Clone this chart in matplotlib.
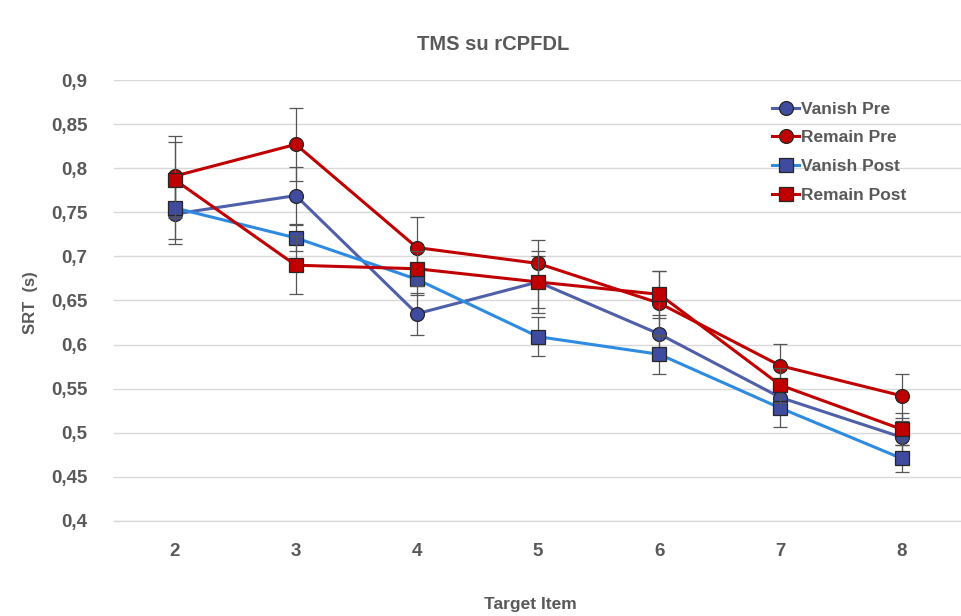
import matplotlib.pyplot as plt

plt.rcParams['font.family'] = ['Liberation Sans', 'DejaVu Sans']

items = [2, 3, 4, 5, 6, 7, 8]

vanish_pre = [0.748, 0.769, 0.635, 0.671, 0.612, 0.540, 0.495]
remain_pre = [0.791, 0.827, 0.710, 0.692, 0.647, 0.576, 0.542]
vanish_post = [0.755, 0.721, 0.674, 0.609, 0.589, 0.528, 0.471]
remain_post = [0.787, 0.690, 0.686, 0.671, 0.657, 0.554, 0.504]

vanish_pre_err = [0.034, 0.032, 0.024, 0.030, 0.022, 0.018, 0.018]
remain_pre_err = [0.045, 0.041, 0.035, 0.027, 0.037, 0.025, 0.025]
vanish_post_err = [0.035, 0.015, 0.018, 0.022, 0.022, 0.021, 0.015]
remain_post_err = [0.043, 0.033, 0.020, 0.035, 0.027, 0.020, 0.018]

yticks = [0.4, 0.45, 0.5, 0.55, 0.6, 0.65, 0.7, 0.75, 0.8, 0.85, 0.9]
ytick_labels = ['0,4', '0,45', '0,5', '0,55', '0,6', '0,65', '0,7', '0,75', '0,8', '0,85', '0,9']

grey = '#595959'

fig = plt.figure(figsize=(9.61, 6.16), dpi=100)
ax = fig.add_axes([114 / 961, 95 / 616, 847 / 961, 441 / 616])

series = [
    ('Vanish Pre', vanish_pre, vanish_pre_err, '#4F5FA8', 'o', '#3F4B9E'),
    ('Remain Pre', remain_pre, remain_pre_err, '#C00000', 'o', '#C00000'),
    ('Vanish Post', vanish_post, vanish_post_err, '#2E8BE0', 's', '#3F4B9E'),
    ('Remain Post', remain_post, remain_post_err, '#C00000', 's', '#C00000'),
]

for i, (name, vals, err, lc, mk, mc) in enumerate(series):
    ax.errorbar(items, vals, yerr=err, fmt='none', ecolor='#555555',
                elinewidth=0.9, capsize=5, capthick=0.9, zorder=3 + i * 2)
    ax.plot(items, vals, color=lc, linewidth=2.2, marker=mk, markersize=10,
            markerfacecolor=mc, markeredgecolor='#262626', markeredgewidth=0.9,
            label=name, zorder=4 + i * 2)

ax.set_xlim(1.5, 8.49)
ax.set_ylim(0.4, 0.9)
ax.set_xticks(items)
ax.set_xticklabels([str(v) for v in items])
ax.set_yticks(yticks)
ax.set_yticklabels(ytick_labels)
ax.grid(axis='y', color='#D9D9D9', linewidth=1)
ax.set_axisbelow(True)
for s in ax.spines.values():
    s.set_visible(False)
ax.spines['bottom'].set_visible(True)
ax.spines['bottom'].set_color('#D9D9D9')
ax.spines['bottom'].set_linewidth(1)
ax.tick_params(length=0, labelsize=13.5, labelcolor=grey, pad=16)
ax.tick_params(axis='y', pad=19)
for lbl in ax.get_xticklabels() + ax.get_yticklabels():
    lbl.set_fontweight('bold')

fig.text(493 / 961, 1 - 44 / 616, 'TMS su rCPFDL', ha='center', va='center',
         fontsize=14.5, fontweight='bold', color=grey)
fig.text(530 / 961, 1 - 605 / 616, 'Target Item', ha='center', va='center',
         fontsize=12.5, fontweight='bold', color=grey)
fig.text(30 / 961, 1 - 303 / 616, 'SRT  (s)', ha='center', va='center',
         rotation=90, fontsize=12, fontweight='bold', color=grey)

leg = ax.legend(loc='upper left', bbox_to_anchor=(756 / 961, 1 - 86 / 616),
                bbox_transform=fig.transFigure, frameon=False, fontsize=12.5,
                handlelength=1.6, handletextpad=0.1, labelspacing=0.78,
                markerscale=1.0)
for t in leg.get_texts():
    t.set_color(grey)
    t.set_fontweight('bold')

fig.savefig('out.png', dpi=100)
